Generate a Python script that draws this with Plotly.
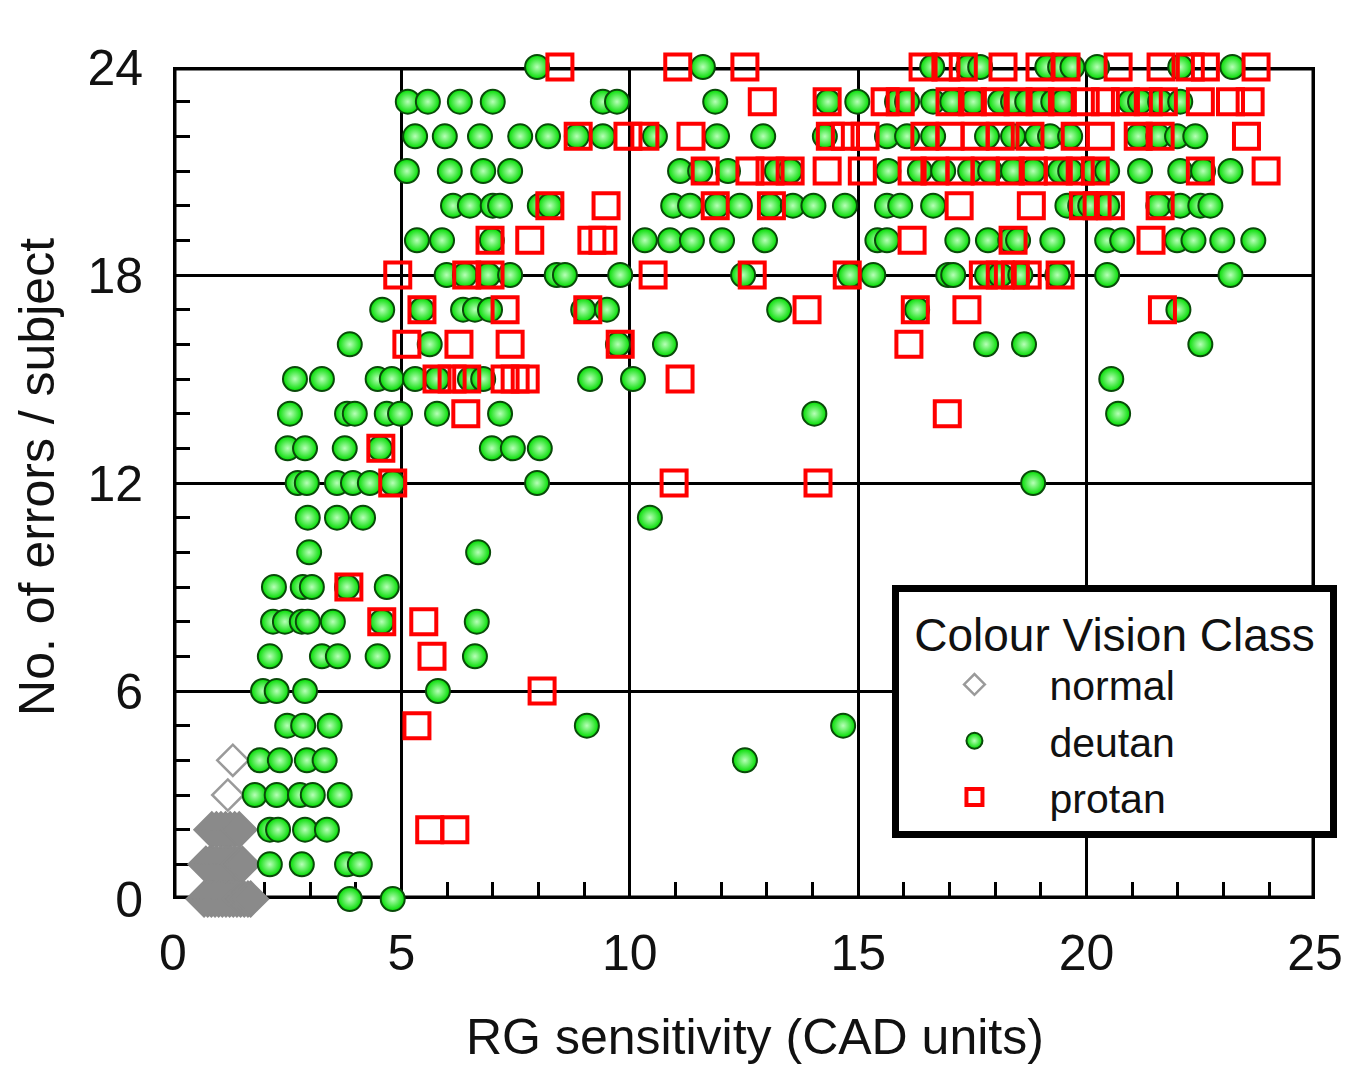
import plotly.graph_objects as go

# ---- data: x = RG sensitivity (CAD units), grouped by number of errors / subject ----
deutan_by_errors = {
    24: [7.97, 11.60, 16.62, 17.41, 17.67, 19.14, 19.42, 19.69, 20.23, 22.05, 23.19],
    23: [5.14, 5.58, 6.28, 7.00, 9.41, 9.72, 11.87, 14.34, 14.98, 15.85, 16.07, 16.64, 17.06,
         17.52, 18.11, 18.39, 18.70, 18.98, 19.27, 19.49, 20.96, 21.17, 21.61, 22.05],
    22: [5.30, 5.95, 6.72, 7.60, 8.21, 8.84, 9.41, 10.55, 11.91, 12.92, 14.27, 15.63, 16.07,
         16.64, 17.82, 18.39, 18.92, 19.20, 19.64, 21.13, 21.57, 21.98, 22.38],
    21: [5.12, 6.06, 6.79, 7.38, 11.10, 11.54, 12.15, 13.22, 13.51, 15.66, 16.35, 16.86, 17.45,
         17.89, 18.39, 18.83, 19.42, 19.64, 20.14, 20.45, 21.17, 22.05, 22.55, 23.15],
    20: [6.13, 6.50, 7.00, 7.16, 8.03, 8.25, 10.95, 11.32, 11.91, 12.41, 13.07, 13.57, 14.02,
         14.71, 15.63, 15.92, 16.64, 19.58, 19.86, 20.08, 20.45, 21.57, 22.05, 22.49, 22.71],
    19: [5.34, 5.89, 6.98, 10.33, 10.88, 11.36, 12.02, 12.96, 15.42, 15.63, 17.17, 17.84, 18.33,
         18.50, 19.25, 20.45, 20.78, 21.98, 22.34, 22.97, 23.65],
    18: [5.99, 6.39, 6.90, 7.38, 8.40, 8.58, 9.79, 12.48, 14.82, 15.33, 16.97, 17.08, 17.82,
         18.11, 18.55, 19.36, 20.45, 23.15],
    17: [4.58, 5.45, 6.35, 6.61, 6.94, 8.98, 9.50, 13.27, 16.29, 22.01],
    16: [3.87, 5.62, 9.74, 10.77, 17.80, 18.63, 22.49],
    15: [2.67, 3.26, 4.48, 4.79, 5.30, 5.78, 6.50, 6.79, 9.13, 10.07, 20.54],
    14: [2.56, 3.81, 3.98, 4.68, 4.97, 5.78, 7.16, 14.04, 20.69],
    13: [2.51, 2.89, 3.76, 4.53, 6.98, 7.44, 8.03],
    12: [2.73, 2.93, 3.59, 3.94, 4.31, 4.81, 7.97, 18.83],
    11: [2.95, 3.59, 4.16, 10.44],
    10: [2.98, 6.68],
    9: [2.21, 2.84, 3.04, 3.81, 4.68],
    8: [2.19, 2.45, 2.82, 2.95, 3.50, 4.57, 6.65],
    7: [2.12, 3.26, 3.61, 4.48, 6.61],
    6: [1.97, 2.27, 2.89, 5.80],
    5: [2.50, 2.85, 3.43, 9.06, 14.67],
    4: [1.90, 2.34, 2.93, 3.32, 12.52],
    3: [1.79, 2.27, 2.78, 3.06, 3.65],
    2: [2.12, 2.30, 2.89, 3.37],
    1: [2.12, 2.82, 3.81, 4.09],
    0: [3.87, 4.81],
}

protan_by_errors = {
    24: [8.47, 11.05, 12.52, 16.42, 16.92, 17.30, 18.17, 18.98, 19.55, 20.69, 21.63, 22.27, 22.60, 23.71],
    23: [12.90, 14.32, 15.59, 15.92, 17.01, 17.50, 18.00, 18.50, 18.98, 19.47, 19.97, 20.41,
         20.85, 21.35, 21.68, 22.49, 23.15, 23.58],
    22: [8.87, 9.96, 10.33, 11.34, 14.39, 14.72, 15.15, 16.46, 17.01, 17.56, 18.11, 18.76,
         19.75, 20.30, 21.13, 21.61, 23.50],
    21: [11.65, 12.63, 13.07, 13.51, 14.32, 15.09, 16.18, 16.68, 17.23, 17.78, 18.33, 18.83,
         19.38, 19.86, 20.19, 22.49, 23.93],
    20: [8.25, 9.48, 11.87, 13.10, 17.21, 18.79, 19.93, 20.23, 20.52, 21.61],
    19: [6.94, 7.81, 9.17, 9.41, 16.18, 18.39, 21.41],
    18: [4.92, 6.43, 6.94, 10.51, 12.68, 14.76, 17.74, 18.11, 18.44, 18.70, 19.42],
    17: [5.45, 7.27, 9.08, 13.88, 16.25, 17.38, 21.66],
    16: [5.12, 6.26, 7.38, 9.79, 16.11],
    15: [5.78, 6.11, 6.43, 7.27, 7.49, 7.71, 11.10],
    14: [6.41, 16.95],
    13: [4.55],
    12: [4.81, 10.97, 14.12],
    9: [3.85],
    8: [4.57, 5.49],
    7: [5.67],
    6: [8.08],
    5: [5.34],
    2: [5.62, 6.17],
}

# normal trichromats: isolated points and the dense cluster near the origin
normal_by_errors = {
    4: [1.31],
    3: [1.20],
}
normal_cluster_by_errors = {
    2: [0.85, 0.95, 1.05, 1.15, 1.25, 1.35, 1.45],
    1: [0.72, 0.80, 0.88, 0.96, 1.04, 1.12, 1.20, 1.28, 1.36, 1.44, 1.52],
    0: [0.68, 0.76, 0.84, 0.92, 1.00, 1.08, 1.16, 1.24, 1.32, 1.40, 1.48, 1.56, 1.64, 1.70],
}

x_ticks = [0, 5, 10, 15, 20, 25]
y_ticks = [0, 6, 12, 18, 24]


def flatten(groups):
    xs, ys = [], []
    for errs, vals in groups.items():
        for v in vals:
            xs.append(v)
            ys.append(errs)
    return xs, ys


nx, ny = flatten(normal_by_errors)
ncx, ncy = flatten(normal_cluster_by_errors)
dx, dy = flatten(deutan_by_errors)
px_, py_ = flatten(protan_by_errors)

FONT = "Liberation Sans, Arial, sans-serif"
TXT = "#111111"

fig = go.Figure()
fig.add_trace(go.Scatter(
    x=nx, y=ny, mode="markers", name="normal", legendgroup="normal",
    marker=dict(symbol="diamond-open", size=24, color="#9a9a9a", line=dict(width=2.5, color="#9a9a9a")),
    cliponaxis=False,
))
fig.add_trace(go.Scatter(
    x=ncx, y=ncy, mode="markers", name="normal", legendgroup="normal", showlegend=False,
    marker=dict(symbol="diamond", size=27, color="#8a8a8a", line=dict(width=2, color="#8a8a8a")),
    cliponaxis=False,
))
fig.add_trace(go.Scatter(
    x=dx, y=dy, mode="markers", name="deutan",
    marker=dict(symbol="circle", size=24, color="#00dc00",
                gradient=dict(type="radial", color="#b8ffb8"),
                line=dict(width=2, color="#0a4a0a")),
    cliponaxis=False,
))
fig.add_trace(go.Scatter(
    x=px_, y=py_, mode="markers", name="protan",
    marker=dict(symbol="square-open", size=25, color="#ff0000", line=dict(width=4, color="#ff0000")),
    cliponaxis=False,
))

axis_common = dict(
    showline=False, zeroline=False, showgrid=True, gridcolor="black", gridwidth=3,
    ticks="inside", ticklen=17, tickwidth=3, tickcolor="black",
    tickfont=dict(family=FONT, size=50, color=TXT),
    layer="below traces",
    minor=dict(dtick=1, ticks="inside", ticklen=17, tickwidth=3, tickcolor="black", showgrid=False),
)

fig.update_xaxes(range=[0, 25], tickvals=x_ticks, ticktext=[str(v) for v in x_ticks],
                 ticklabelstandoff=20, **axis_common)
fig.update_yaxes(range=[0, 24], tickvals=y_ticks, ticktext=[str(v) for v in y_ticks],
                 ticklabelstandoff=29, **axis_common)

NB = "\u00a0"
fig.update_layout(
    width=1341, height=1061,
    margin=dict(l=165, r=34, t=59, b=170, autoexpand=False),
    paper_bgcolor="white", plot_bgcolor="white",
    font=dict(family=FONT, color=TXT),
    showlegend=True,
    legend=dict(
        x=0.630, y=0.3780, xanchor="left", yanchor="top",
        bgcolor="white", bordercolor="black", borderwidth=7,
        title=dict(text=NB + "Colour Vision Class" + NB, font=dict(family=FONT, size=46, color=TXT)),
        font=dict(family=FONT, size=41, color=TXT),
        itemwidth=140, tracegroupgap=0,
    ),
    shapes=[
        dict(type="rect", xref="x", yref="y", x0=0, x1=25, y0=0, y1=24,
             line=dict(color="black", width=7), layer="between"),
        dict(type="line", xref="paper", yref="paper", x0=1.0245, x1=1.0245, y0=-0.042, y1=-0.102,
             line=dict(color="black", width=2), layer="above"),
    ],
    annotations=[
        dict(text="RG sensitivity (CAD units)", xref="paper", yref="paper", x=0.51, y=-0.1660,
             xanchor="center", yanchor="middle", showarrow=False,
             font=dict(family=FONT, size=50, color=TXT)),
        dict(text="No. of errors / subject", xref="paper", yref="paper", x=-0.1191, y=0.5073,
             xanchor="center", yanchor="middle", textangle=-90, showarrow=False,
             font=dict(family=FONT, size=50, color=TXT)),
    ],
)

fig.write_html("out.html")
